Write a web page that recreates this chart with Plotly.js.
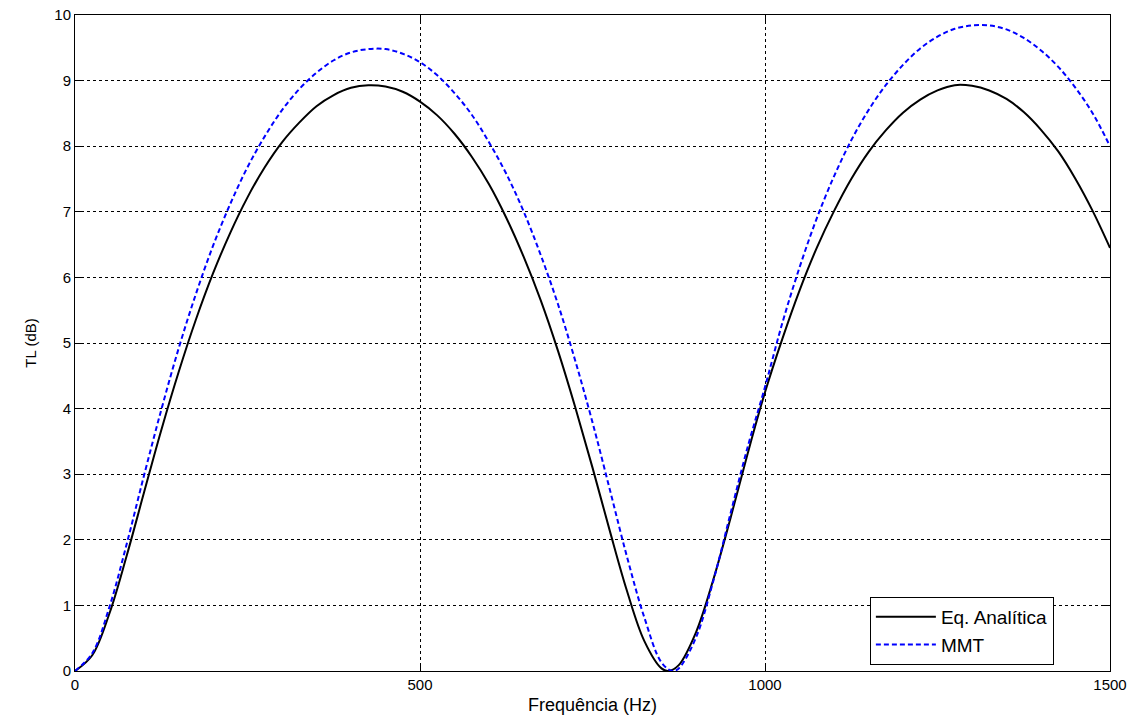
<!DOCTYPE html>
<html>
<head>
<meta charset="utf-8">
<script src="https://cdn.plot.ly/plotly-3.0.1.min.js"></script>
<style>html,body{margin:0;padding:0;background:#fff;}#chart{width:1137px;height:720px;}</style>
</head>
<body>
<div id="chart"></div>
<script>
// Frequency (Hz) and TL (dB)
const freqAnalitica = [0,25,50,75,100,125,150,175,200,225,250,275,300,325,350,375,400,425,450,475,500,525,550,575,600,625,650,675,700,725,750,775,800,825,850,860,875,900,925,950,975,1000,1025,1050,1075,1100,1125,1150,1175,1200,1225,1250,1275,1300,1325,1350,1375,1400,1425,1450,1475,1500];
const tlAnalitica = [0,0.24,0.88,1.76,2.72,3.67,4.55,5.35,6.06,6.68,7.22,7.68,8.06,8.36,8.61,8.78,8.89,8.93,8.91,8.83,8.68,8.47,8.19,7.84,7.42,6.91,6.32,5.65,4.88,4.02,3.10,2.14,1.22,0.46,0.04,0.0,0.09,0.59,1.39,2.33,3.32,4.25,5.06,5.80,6.45,7.01,7.50,7.91,8.24,8.51,8.71,8.85,8.93,8.92,8.85,8.72,8.52,8.25,7.92,7.50,7.01,6.45];

const freqMMT = [0,25,50,75,100,125,150,175,200,225,250,275,300,325,350,375,400,425,450,475,500,525,550,575,600,625,650,675,700,725,750,775,800,825,850,866,875,900,925,950,975,1000,1025,1050,1075,1100,1125,1150,1175,1200,1225,1250,1275,1300,1325,1350,1375,1400,1425,1450,1475,1500];
const tlMMT = [0,0.27,0.98,1.94,2.98,3.98,4.91,5.74,6.48,7.12,7.68,8.15,8.55,8.87,9.12,9.31,9.43,9.48,9.48,9.41,9.28,9.08,8.81,8.48,8.06,7.58,7.01,6.34,5.59,4.73,3.79,2.77,1.74,0.82,0.13,0.0,0.04,0.51,1.37,2.40,3.42,4.33,5.30,6.15,6.90,7.54,8.09,8.55,8.93,9.24,9.49,9.67,9.79,9.84,9.84,9.78,9.65,9.46,9.21,8.89,8.50,8.00];

const xTicks = [0,500,1000,1500];
const yTicks = [0,1,2,3,4,5,6,7,8,9,10];

const traces = [
  {x: freqAnalitica, y: tlAnalitica, type: 'scatter', mode: 'lines', name: 'Eq. Analítica',
   line: {color: '#000000', width: 2, shape: 'spline', smoothing: 1}},
  {x: freqMMT, y: tlMMT, type: 'scatter', mode: 'lines', name: 'MMT',
   line: {color: '#0000ff', width: 2, dash: '5px,3px', shape: 'spline', smoothing: 1}}
];

const FONT = 'Liberation Sans, Arial, sans-serif';
const axisCommon = {
  showline: true, linecolor: '#000', linewidth: 1, mirror: 'ticks',
  ticks: 'inside', ticklen: 6, tickcolor: '#000', tickwidth: 1,
  showgrid: true, gridcolor: '#000', gridwidth: 1, griddash: '3px,3px',
  zeroline: false,
  tickfont: {family: FONT, size: 15, color: '#000'}
};

const layout = {
  width: 1137, height: 720,
  margin: {l: 75, r: 27, t: 15, b: 49},
  paper_bgcolor: '#fff', plot_bgcolor: '#fff',
  showlegend: true,
  xaxis: Object.assign({}, axisCommon, {
    range: [0, 1500], tickvals: xTicks, ticktext: xTicks.map(String),
    title: {text: 'Frequência (Hz)', font: {family: FONT, size: 18, color: '#000'}, standoff: 6}
  }),
  yaxis: Object.assign({}, axisCommon, {
    range: [0, 10], tickvals: yTicks, ticktext: yTicks.map(String),
    title: {text: 'TL (dB)', font: {family: FONT, size: 15, color: '#000'}, standoff: 14}
  }),
  legend: {
    x: 0.768, y: 0.113, xanchor: 'left', yanchor: 'top',
    bgcolor: '#fff', bordercolor: '#000', borderwidth: 1,
    font: {family: FONT, size: 19, color: '#000'},
    tracegroupgap: 0, itemwidth: 60
  }
};

Plotly.newPlot('chart', traces, layout, {displayModeBar: false, staticPlot: true});
</script>
</body>
</html>
